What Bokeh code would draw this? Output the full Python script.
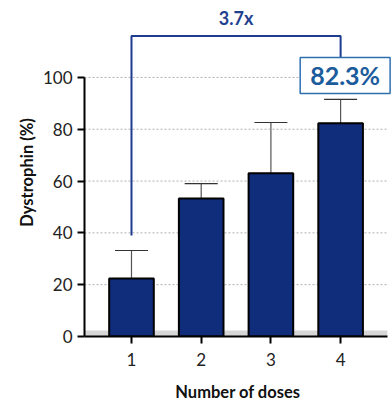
from bokeh.plotting import figure
from bokeh.models import Range1d, FixedTicker, ColumnDataSource, Whisker
from bokeh.core.properties import value
from bokeh.embed import file_html
from bokeh.resources import INLINE

doses = [1, 2, 3, 4]
dystrophin = [22.4, 53.3, 63.0, 82.3]
err_low = [11.6, 48.3, 44.0, 73.0]
err_high = [33.2, 59.0, 82.6, 91.5]
y_ticks = [0, 20, 40, 60, 80, 100]
fold_label = "3.7x"
max_label = "82.3%"
bracket_start = 39.0
bracket_top = 116.0
box_bottom = 93.8
box_top = 107.7

X0, X1, XG = 0.326, 4.73, 4.67
Y1 = 126.6

p = figure(width=391, height=405, output_backend="svg", toolbar_location=None,
           x_range=Range1d(X0, X1), y_range=Range1d(0, Y1),
           min_border_left=84, min_border_right=0, min_border_top=8,
           min_border_bottom=69)
p.outline_line_color = None
p.xgrid.visible = False
p.ygrid.visible = False
p.background_fill_color = "white"

# grid lines (dotted)
p.segment(x0=[X0] * 5, x1=[XG] * 5, y0=y_ticks[1:], y1=y_ticks[1:],
          line_color="#b0b0b0", line_width=1, line_dash="2 2")
# gray baseline band
p.quad(left=[X0], right=[XG], bottom=[0], top=[2.3], fill_color="#d6d6d6", line_color=None)

src = ColumnDataSource(dict(x=doses, top=dystrophin, lo=err_low, hi=err_high))
p.vbar(x="x", top="top", width=0.64, bottom=0, source=src,
       fill_color="#0f2d7a", line_color="black", line_width=2)
w = Whisker(base="x", lower="lo", upper="hi", source=src, line_color="#555555", line_width=1.2)
w.upper_head.size = 33
w.lower_head.size = 33
w.upper_head.line_color = "#333333"
w.lower_head.line_color = "#111111"
w.upper_head.line_width = 1.2
w.lower_head.line_width = 1.2
p.add_layout(w)

# bracket
p.line(x=[doses[0], doses[0], doses[3], doses[3]],
       y=[bracket_start, bracket_top, bracket_top, box_top],
       line_color="#1d3c8f", line_width=2)
p.text(x=[(doses[0] + doses[3]) / 2], y=[bracket_top + 7], text=[fold_label],
       text_align="center", text_baseline="middle", text_font=value("Lato"),
       text_font_style="bold", text_font_size="18px", text_color="#1f3f8f")

# value box
p.quad(left=[3.42], right=[4.71], bottom=[box_bottom], top=[box_top],
       fill_color="white", line_color="#2f6fb0", line_width=1.5)
p.text(x=[(3.42 + 4.71) / 2], y=[(box_bottom + box_top) / 2], text=[max_label],
       text_align="center", text_baseline="middle", text_font=value("Lato"),
       text_font_style="bold", text_font_size="25px", text_color="#1b5c9c")

# axes
p.yaxis.ticker = FixedTicker(ticks=y_ticks)
p.yaxis.bounds = (0, 100)
p.yaxis.axis_line_width = 2
p.yaxis.axis_line_color = "black"
p.yaxis.major_tick_line_width = 2
p.yaxis.major_tick_in = 0
p.yaxis.major_tick_out = 7
p.yaxis.minor_tick_line_color = None
p.yaxis.major_label_text_font = "Lato"
p.yaxis.major_label_text_font_size = "17px"
p.yaxis.major_label_text_color = "#222222"
p.yaxis.major_label_standoff = 5
p.yaxis.axis_label = "Dystrophin (%)"
p.yaxis.axis_label_text_font = "Lato"
p.yaxis.axis_label_text_font_style = "bold"
p.yaxis.axis_label_text_font_size = "16.5px"
p.yaxis.axis_label_text_color = "#111111"
p.yaxis.axis_label_standoff = 3

p.xaxis.ticker = FixedTicker(ticks=doses)
p.xaxis.bounds = (X0 - 0.1, XG)
p.xaxis.axis_line_width = 2
p.xaxis.axis_line_color = "black"
p.xaxis.major_tick_line_width = 2
p.xaxis.major_tick_in = 0
p.xaxis.major_tick_out = 7
p.xaxis.minor_tick_line_color = None
p.xaxis.major_label_text_font = "Lato"
p.xaxis.major_label_text_font_size = "17px"
p.xaxis.major_label_text_color = "#222222"
p.xaxis.major_label_standoff = 9
p.xaxis.axis_label = "Number of doses"
p.xaxis.axis_label_text_font = "Lato"
p.xaxis.axis_label_text_font_style = "bold"
p.xaxis.axis_label_text_font_size = "16.5px"
p.xaxis.axis_label_text_color = "#111111"
p.xaxis.axis_label_standoff = 13

open("out.html", "w").write(file_html(p, INLINE))
